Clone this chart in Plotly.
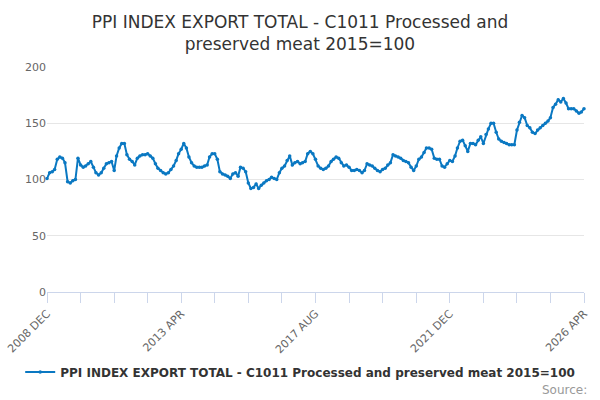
import pandas as pd
import plotly.graph_objects as go

# Monthly index values, Dec 2008 .. Apr 2026
values = [
    101, 106, 107, 109, 118, 120, 119, 115, 98, 97,
    99, 100, 119, 113, 111, 112, 114, 116, 111, 106,
    104, 106, 110, 114, 115, 116, 108, 121, 128, 132,
    132, 122, 118, 116, 113, 119, 121, 122, 122, 123,
    121, 119, 114, 110, 108, 106, 105, 106, 109, 112,
    117, 123, 127, 132, 128, 120, 115, 112, 111, 111,
    111, 112, 113, 120, 123, 123, 118, 107, 105, 104,
    103, 101, 105, 106, 103, 111, 110, 107, 97, 92,
    93, 96, 92, 95, 97, 99, 100, 102, 101, 100,
    106, 110, 112, 117, 121, 113, 115, 116, 114, 115,
    116, 123, 125, 123, 118, 112, 110, 109, 110, 112,
    116, 118, 120, 119, 115, 112, 113, 111, 108, 108,
    109, 108, 106, 108, 114, 113, 112, 110, 108, 107,
    109, 110, 113, 115, 122, 121, 120, 119, 117, 116,
    115, 111, 108, 112, 118, 120, 124, 128, 128, 127,
    119, 118, 118, 112, 111, 114, 117, 116, 121, 128,
    134, 135, 130, 125, 132, 132, 131, 135, 138, 132,
    140, 145, 150, 150, 142, 136, 134, 133, 132, 131,
    131, 131, 144, 151, 157, 155, 148, 146, 142, 141,
    144, 146, 148, 150, 152, 155, 164, 167, 171, 169,
    172, 168, 163, 163, 163, 161, 159, 160, 163,
]
series_name = "PPI INDEX EXPORT TOTAL - C1011 Processed and preserved meat 2015=100"
y_ticks = [0, 50, 100, 150, 200]

dates = pd.date_range("2008-12-01", periods=len(values), freq="MS")
tick_dates = dates[::13]
tick_text = [d.strftime("%Y %b").upper() if k % 4 == 0 else "" for k, d in enumerate(tick_dates)]

fig = go.Figure()
fig.add_trace(go.Scatter(
    x=dates, y=values, name=series_name,
    mode="lines+markers",
    line=dict(color="#0a78c2", width=2),
    marker=dict(color="#0a78c2", size=3.5),
    cliponaxis=False,
))

fig.update_layout(
    width=600, height=400,
    margin=dict(l=47, r=16, t=67, b=108, autoexpand=False),
    paper_bgcolor="white", plot_bgcolor="white",
    font=dict(family="DejaVu Sans", color="#333333"),
    title=dict(
        text="PPI INDEX EXPORT TOTAL - C1011 Processed and<br>preserved meat 2015=100",
        x=0.5, xanchor="center", yref="container", y=0.93, yanchor="middle",
        font=dict(size=17, color="#333333"),
    ),
    showlegend=True,
    legend=dict(
        orientation="h", x=0.4715, xanchor="center", y=-0.356, yanchor="middle",
        font=dict(size=12, color="#333333", weight="bold"),
    ),
    annotations=[dict(
        text="Source:", xref="paper", yref="paper", x=1.0095, y=-0.436,
        xanchor="right", yanchor="middle", showarrow=False,
        font=dict(size=12, color="#999999"),
    )],
)

fig.update_xaxes(
    range=[dates[0], dates[-1]], automargin=False,
    tickvals=tick_dates, ticktext=tick_text, tickangle=-45,
    ticks="outside", ticklen=10, tickcolor="#ccd6eb",
    showline=True, linecolor="#ccd6eb", showgrid=False,
    tickfont=dict(size=11, color="#666666"),
)
fig.update_yaxes(
    range=[0, 200], tickvals=y_ticks, automargin=False,
    showgrid=True, gridcolor="#e6e6e6", zeroline=False,
    tickfont=dict(size=11, color="#666666"),
)

fig.write_html("out.html", config={"displayModeBar": False},
               post_script="document.body.style.margin='0';")
